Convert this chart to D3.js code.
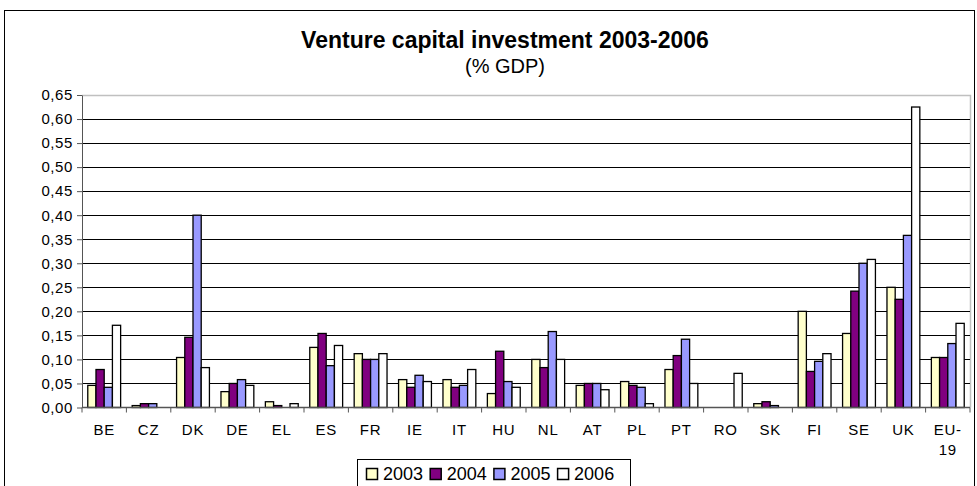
<!DOCTYPE html>
<html lang="en">
<head>
<meta charset="UTF-8">
<script src="https://d3js.org/d3.v7.min.js"></script>
<title>Venture capital investment</title>
<style>
  body { margin: 0; background: #fff; }
  svg text { font-family: "Liberation Sans", Arial, sans-serif; fill: #000; }
</style>
</head>
<body>
<div id="container"></div>
<script>
  // data
  var countries = ["BE","CZ","DK","DE","EL","ES","FR","IE","IT","HU","NL","AT","PL","PT","RO","SK","FI","SE","UK","EU-19"];
  var years = ["2003","2004","2005","2006"];
  var v2003 = [0.046,0.004,0.104,0.033,0.012,0.125,0.112,0.058,0.058,0.029,0.100,0.046,0.054,0.079,0,0.008,0.200,0.154,0.250,0.104];
  var v2004 = [0.079,0.008,0.146,0.050,0.004,0.154,0.100,0.042,0.042,0.117,0.083,0.050,0.046,0.108,0,0.012,0.075,0.242,0.225,0.104];
  var v2005 = [0.042,0.008,0.400,0.058,0,0.087,0.100,0.067,0.046,0.054,0.158,0.050,0.042,0.142,0,0.004,0.096,0.300,0.358,0.133];
  var v2006 = [0.171,0,0.083,0.046,0.008,0.129,0.112,0.054,0.079,0.042,0.100,0.037,0.008,0.050,0.071,0,0.112,0.308,0.625,0.175];
  var yTicks = [0,0.05,0.10,0.15,0.20,0.25,0.30,0.35,0.40,0.45,0.50,0.55,0.60,0.65];
  var colors = ["#FFFFCC","#800080","#9999FF","#FFFFFF"];

  var series = [v2003, v2004, v2005, v2006];
  var width = 977, height = 486;
  var pLeft = 82, pRight = 970, pTop = 95, pBottom = 407.5;

  var svg = d3.select("#container").append("svg")
      .attr("width", width).attr("height", height);

  // outer frame
  svg.append("rect")
      .attr("x", 4.5).attr("y", 10.5)
      .attr("width", 970).attr("height", 490)
      .attr("fill", "none").attr("stroke", "#000").attr("stroke-width", 1);

  // titles
  svg.append("text").attr("x", 505).attr("y", 48)
      .attr("text-anchor", "middle").attr("font-size", 23).attr("font-weight", "bold")
      .text("Venture capital investment 2003-2006");
  svg.append("text").attr("x", 505).attr("y", 73)
      .attr("text-anchor", "middle").attr("font-size", 20)
      .text("(% GDP)");

  var y = d3.scaleLinear().domain([0, 0.65]).range([pBottom, pTop]);
  var x0 = d3.scaleBand().domain(countries).range([pLeft, pRight]).paddingInner(0.26).paddingOuter(0.13);
  var x1 = d3.scaleBand().domain(years).range([0, x0.bandwidth()]);
  var xCat = d3.scaleBand().domain(countries).range([pLeft, pRight]);

  // plot area border (gray)
  svg.append("path")
      .attr("d", "M" + pLeft + "," + (pTop + 0.5) + "H" + (pRight + 0.5) + "V" + pBottom)
      .attr("fill", "none").attr("stroke", "#c0c0c0").attr("stroke-width", 1.5);

  // gridlines
  svg.append("g").selectAll("line")
      .data(yTicks.filter(function(d){ return d > 0 && d < 0.65; }))
      .enter().append("line")
      .attr("x1", pLeft).attr("x2", pRight)
      .attr("y1", function(d){ return Math.round(y(d)) + 0.5; })
      .attr("y2", function(d){ return Math.round(y(d)) + 0.5; })
      .attr("stroke", "#000").attr("stroke-width", 1);

  // y axis
  var fmt = function(d){ return d3.format(".2f")(d).replace(".", ","); };
  var yAxis = svg.append("g").attr("transform", "translate(" + pLeft + ",0)")
      .call(d3.axisLeft(y).tickValues(yTicks).tickFormat(fmt).tickSize(5).tickSizeOuter(0));
  yAxis.select(".domain").attr("stroke", "#555");
  yAxis.selectAll(".tick line").attr("stroke", "#555");
  yAxis.selectAll("text").attr("font-size", 15).attr("letter-spacing", 0.6).attr("x", -9)
      .attr("font-family", "Liberation Sans, Arial, sans-serif");

  // bars
  var groups = svg.append("g").selectAll("g")
      .data(countries).enter().append("g")
      .attr("transform", function(d){ return "translate(" + x0(d) + ",0)"; });
  groups.selectAll("rect")
      .data(function(d, i){
        return years.map(function(yr, k){ return {year: yr, k: k, val: series[k][i]}; })
          .filter(function(e){ return e.val > 0; });
      })
      .enter().append("rect")
      .attr("x", function(d){ return x1(d.year); })
      .attr("y", function(d){ return y(d.val); })
      .attr("width", x1.bandwidth())
      .attr("height", function(d){ return pBottom - y(d.val); })
      .attr("fill", function(d){ return colors[d.k]; })
      .attr("stroke", "#000").attr("stroke-width", 1.3);

  // x axis
  var xAxisG = svg.append("g").attr("transform", "translate(0," + pBottom + ")");
  xAxisG.append("line").attr("x1", pLeft).attr("x2", pRight)
      .attr("stroke", "#555").attr("stroke-width", 1.3);
  xAxisG.selectAll(".sep")
      .data(countries.concat(["end"]))
      .enter().append("line")
      .attr("x1", function(d, i){ return pLeft + i * xCat.step(); })
      .attr("x2", function(d, i){ return pLeft + i * xCat.step(); })
      .attr("y1", 0).attr("y2", 5).attr("stroke", "#555");
  xAxisG.selectAll("text")
      .data(countries).enter().append("text")
      .attr("x", function(d){ return xCat(d) + xCat.bandwidth() / 2; })
      .attr("y", 27)
      .attr("text-anchor", "middle").attr("font-size", 15).attr("letter-spacing", 0.8)
      .each(function(d){
        var t = d3.select(this);
        var cx = xCat(d) + xCat.bandwidth() / 2;
        if (d === "EU-19") {
          t.append("tspan").attr("x", cx).text("EU-");
          t.append("tspan").attr("x", cx).attr("dy", 20).text("19");
        } else {
          t.text(d);
        }
      });

  // legend
  var lg = svg.append("g").attr("transform", "translate(357,459)");
  lg.append("rect").attr("x", 0.5).attr("y", 0.5).attr("width", 273).attr("height", 40)
      .attr("fill", "#fff").attr("stroke", "#000");
  var items = lg.selectAll(".item").data(years).enter().append("g")
      .attr("transform", function(d, i){ return "translate(" + (9 + i * 63.7) + ",0)"; });
  items.append("rect").attr("x", 0.5).attr("y", 9.5).attr("width", 11).attr("height", 11)
      .attr("fill", function(d, i){ return colors[i]; }).attr("stroke", "#000").attr("stroke-width", 1.5);
  items.append("text").attr("x", 17).attr("y", 21).attr("font-size", 18).text(function(d){ return d; });
</script>
</body>
</html>
